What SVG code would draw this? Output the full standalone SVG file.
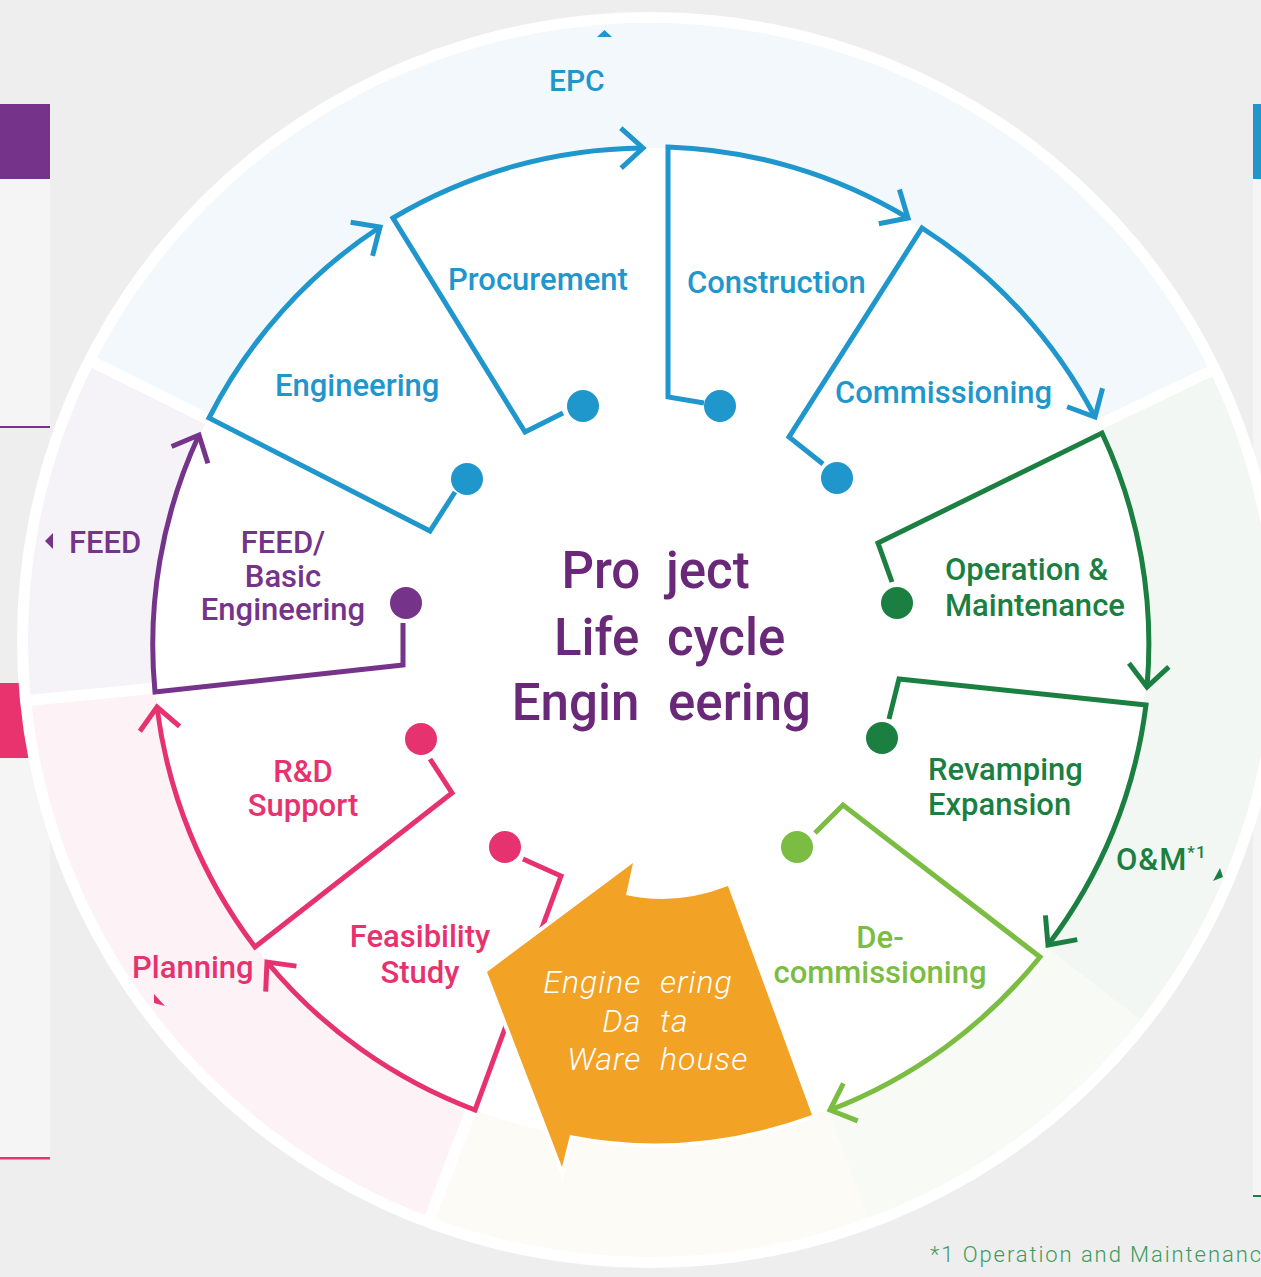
<svg xmlns="http://www.w3.org/2000/svg" width="1261" height="1277" viewBox="0 0 1261 1277">
<style>
text{font-family:Roboto,'Liberation Sans',sans-serif;font-weight:500;}
.lbl{font-size:31px;}
.blue{fill:#1f96cc;} .purple{fill:#75338a;} .pink{fill:#e6336f;} .dgreen{fill:#1b7f42;} .lgreen{fill:#7bbd42;}
.ln{fill:none;stroke-width:5;stroke-linejoin:miter;stroke-miterlimit:10;}
.lnb{stroke:#1f96cc;marker-end:url(#mb);} .lnp{stroke:#75338a;marker-end:url(#mp);} .lnk{stroke:#e6336f;marker-end:url(#mk);}
.lnd{stroke:#1b7f42;marker-end:url(#md);} .lnl{stroke:#7bbd42;marker-end:url(#ml);}
.sep{stroke:#fff;stroke-width:11;}
.title{font-size:51px;fill:#6a2878;}
.ware{font-size:32px;fill:#fff;font-style:italic;font-weight:300;letter-spacing:1px;}
</style>
<defs>
<marker id="mb" markerUnits="userSpaceOnUse" orient="auto" overflow="visible" markerWidth="10" markerHeight="10"><path d="M-22,-20 L0,0 L-22,20" fill="none" stroke="#1f96cc" stroke-width="5"/></marker>
<marker id="mp" markerUnits="userSpaceOnUse" orient="auto" overflow="visible" markerWidth="10" markerHeight="10"><path d="M-22,-20 L0,0 L-22,20" fill="none" stroke="#75338a" stroke-width="5"/></marker>
<marker id="mk" markerUnits="userSpaceOnUse" orient="auto" overflow="visible" markerWidth="10" markerHeight="10"><path d="M-22,-20 L0,0 L-22,20" fill="none" stroke="#e6336f" stroke-width="5"/></marker>
<marker id="md" markerUnits="userSpaceOnUse" orient="auto" overflow="visible" markerWidth="10" markerHeight="10"><path d="M-22,-20 L0,0 L-22,20" fill="none" stroke="#1b7f42" stroke-width="5"/></marker>
<marker id="ml" markerUnits="userSpaceOnUse" orient="auto" overflow="visible" markerWidth="10" markerHeight="10"><path d="M-22,-20 L0,0 L-22,20" fill="none" stroke="#7bbd42" stroke-width="5"/></marker>
</defs>
<rect width="1261" height="1277" fill="#eeeeee"/>
<g id="side-panels">
<rect x="0" y="179" width="50" height="248" fill="#f5f5f5"/>
<rect x="0" y="104" width="50" height="75" fill="#76338a"/>
<rect x="0" y="426" width="50" height="2" fill="#76338a"/>
<rect x="0" y="758" width="50" height="400" fill="#f5f5f5"/>
<rect x="0" y="683" width="50" height="75" fill="#e8336e"/>
<rect x="0" y="1157" width="50" height="2.5" fill="#e8336e"/>
<rect x="1253" y="179" width="8" height="1017" fill="#f5f5f5"/>
<rect x="1253" y="104" width="8" height="75" fill="#1f96cc"/>
<rect x="1253" y="1195" width="8" height="2" fill="#1b7f42"/>
</g>
<g id="wheel">
<ellipse cx="650" cy="640" rx="633" ry="628" fill="#fff"/>
<path d="M650,640 L94.3,362.8 A622,617 0 0 1 1210,371.5 Z" fill="#f2f8fb"/>
<path d="M650,640 L1210,371.5 A622,617 0 0 1 1140.1,1019.9 Z" fill="#f2f7f3"/>
<path d="M650,640 L1140.1,1019.9 A622,617 0 0 1 867.8,1218 Z" fill="#f7faf5"/>
<path d="M650,640 L867.8,1218 A622,617 0 0 1 430.1,1217.1 Z" fill="#fdfbf5"/>
<path d="M650,640 L430.1,1217.1 A622,617 0 0 1 31,700.2 Z" fill="#fdf3f6"/>
<path d="M650,640 L31,700.2 A622,617 0 0 1 94.3,362.8 Z" fill="#f5f3f7"/>
<line class="sep" x1="650" y1="640" x2="89.8" y2="360.5"/>
<line class="sep" x1="650" y1="640" x2="1214.5" y2="369.3"/>
<line class="sep" x1="650" y1="640" x2="26" y2="700.7"/>
<line class="sep" x1="650" y1="640" x2="428.4" y2="1221.8"/>
<circle cx="650" cy="645" r="497" fill="#fff"/>
</g>
<g id="phase-labels">
<g id="epc"><polygon points="597,37 612,37 604.5,30" fill="#1f96cc"/><text x="549" y="91" class="blue" style="font-size:30px">EPC</text></g>
<g id="feed"><polygon points="45,541 53,533 53,549" fill="#75338a"/><text x="69" y="553" class="purple lbl">FEED</text></g>
<g id="planning"><polygon points="154,994 154,1003 165,1006" fill="#e6336f"/><text x="132" y="978" class="pink lbl">Planning</text></g>
<g id="om"><polygon points="1213,881 1223,877 1220,868" fill="#1b7f42"/><text x="1116" y="870" class="dgreen lbl" style="letter-spacing:1px">O&amp;M<tspan font-size="17" dy="-12">*1</tspan></text></g>
</g>
<g id="connectors">
<path class="ln lnb" d="M455,492 L430,531 L209,418 A498,498 0 0 1 380,227"/>
<path class="ln lnb" d="M563,413 L525,432 L393,218 A498,498 0 0 1 643,148"/>
<path class="ln lnb" d="M704,403 L668,397 L668,147 A498,498 0 0 1 908,218"/>
<path class="ln lnb" d="M823,464 L789,437 L922,228 A498,498 0 0 1 1095,417"/>
<path class="ln lnp" d="M403,623 L403,665 L155,692 A498,498 0 0 1 199,435"/>
<path class="ln lnk" d="M430,759 L452,793 L255,947 A498,498 0 0 1 157,707"/>
<path class="ln lnk" d="M523,859 L561,876 L475,1110 A498,498 0 0 1 267,962"/>
<path class="ln lnd" d="M892,582 L878,543 L1102,433 A498,498 0 0 1 1147,687"/>
<path class="ln lnd" d="M889,719 L899,679 L1146,705 A498,498 0 0 1 1048,945"/>
<path class="ln lnl" d="M815,833 L843,805 L1040,957 A498,498 0 0 1 830,1110"/>
</g>
<g id="engineering"><circle cx="467" cy="479" r="16" fill="#1f96cc"/><text x="275" y="396" class="blue lbl">Engineering</text></g>
<g id="procurement"><circle cx="583" cy="406" r="16" fill="#1f96cc"/><text x="448" y="290" class="blue lbl">Procurement</text></g>
<g id="construction"><circle cx="720" cy="406" r="16" fill="#1f96cc"/><text x="687" y="293" class="blue lbl">Construction</text></g>
<g id="commissioning"><circle cx="837" cy="478" r="16" fill="#1f96cc"/><text x="835" y="403" class="blue lbl">Commissioning</text></g>
<g id="feed-basic"><circle cx="406" cy="603" r="16" fill="#75338a"/><text class="purple lbl" text-anchor="middle"><tspan x="283" y="553">FEED/</tspan><tspan x="283" y="587">Basic</tspan><tspan x="283" y="620">Engineering</tspan></text></g>
<g id="rd-support"><circle cx="421" cy="739" r="16" fill="#e6336f"/><text class="pink lbl" text-anchor="middle"><tspan x="303" y="782">R&amp;D</tspan><tspan x="303" y="816">Support</tspan></text></g>
<g id="feasibility"><circle cx="505" cy="847" r="16" fill="#e6336f"/><text class="pink lbl" text-anchor="middle"><tspan x="420" y="947">Feasibility</tspan><tspan x="420" y="983">Study</tspan></text></g>
<g id="operation"><circle cx="897" cy="603" r="16" fill="#1b7f42"/><text class="dgreen lbl"><tspan x="945" y="580">Operation &amp;</tspan><tspan x="945" y="616">Maintenance</tspan></text></g>
<g id="revamping"><circle cx="882" cy="738" r="16" fill="#1b7f42"/><text class="dgreen lbl"><tspan x="928" y="780">Revamping</tspan><tspan x="928" y="815">Expansion</tspan></text></g>
<g id="decommissioning"><circle cx="797" cy="847" r="16" fill="#7bbd42"/><text class="lgreen lbl" text-anchor="middle"><tspan x="880" y="948">De-</tspan><tspan x="880" y="983">commissioning</tspan></text></g>
<g id="title"><text class="title"><tspan x="653" y="588" text-anchor="end">Pro</tspan> <tspan x="666" y="588">ject</tspan></text><text class="title"><tspan x="652" y="655" text-anchor="end">Life</tspan> <tspan x="667" y="655">cycle</tspan></text><text class="title"><tspan x="652" y="720" text-anchor="end">Engin</tspan> <tspan x="668" y="720">eering</tspan></text></g>
<g id="warehouse">
<path d="M487,972 L633,863 L626,895 Q677,906 728,886 L812,1115 Q691,1159 570,1135 L562,1167 Z" fill="#f2a224" stroke="#fff" stroke-width="8" paint-order="stroke"/>
<text class="ware"><tspan x="650" y="993" text-anchor="end">Engine</tspan> <tspan x="660" y="993">ering</tspan></text>
<text class="ware"><tspan x="650" y="1032" text-anchor="end">Da</tspan> <tspan x="660" y="1032">ta</tspan></text>
<text class="ware"><tspan x="650" y="1070" text-anchor="end">Ware</tspan> <tspan x="660" y="1070">house</tspan></text>
</g>
<text x="930" y="1262" textLength="331" lengthAdjust="spacing" style="font-size:22px;font-weight:300;fill:#3c9c5c">*1 Operation and Maintenanc</text>
</svg>
